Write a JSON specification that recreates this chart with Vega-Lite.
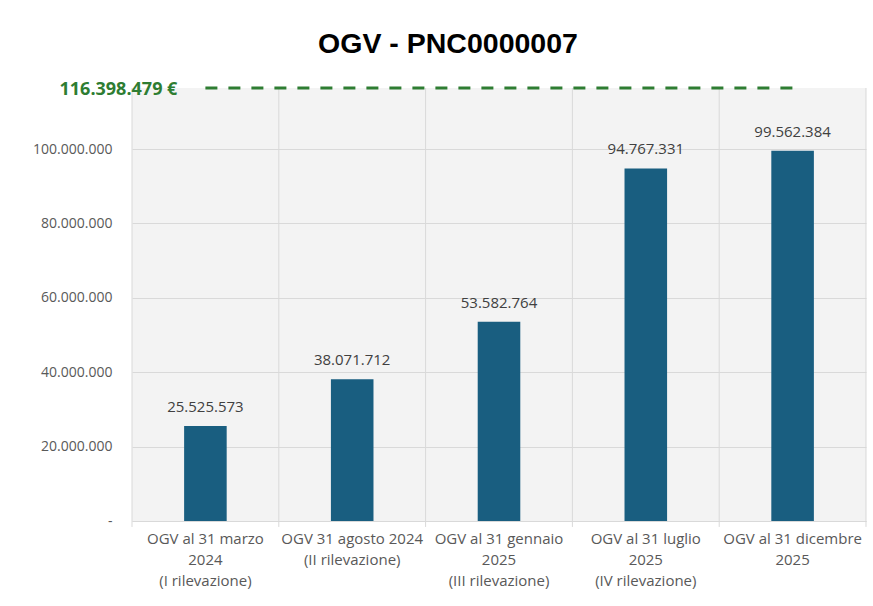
{
  "$schema": "https://vega.github.io/schema/vega-lite/v6.json",
  "width": 734,
  "height": 433,
  "autosize": {"type": "none"},
  "padding": {"left": 132, "top": 88, "right": 7, "bottom": 85},
  "background": "white",
  "title": {
    "text": "OGV - PNC0000007",
    "font": "Liberation Sans",
    "fontSize": 28.5,
    "fontWeight": "bold",
    "color": "#000000",
    "anchor": "middle",
    "dx": -51,
    "offset": 23
  },
  "config": {
    "locale": {
      "number": {"decimal": ",", "thousands": ".", "grouping": [3], "currency": ["", " €"]}
    },
    "view": {"fill": "#f3f3f3", "stroke": null},
    "font": "Open Sans"
  },
  "data": {
    "values": [
      {"periodo": "OGV al 31 marzo|2024|(I rilevazione)", "ogv": 25525573},
      {"periodo": "OGV 31 agosto 2024|(II rilevazione)", "ogv": 38071712},
      {"periodo": "OGV al 31 gennaio|2025|(III rilevazione)", "ogv": 53582764},
      {"periodo": "OGV al 31 luglio|2025|(IV rilevazione)", "ogv": 94767331},
      {"periodo": "OGV al 31 dicembre|2025", "ogv": 99562384}
    ]
  },
  "encoding": {
    "x": {
      "field": "periodo",
      "type": "nominal",
      "sort": null,
      "scale": {"paddingInner": 0.71, "paddingOuter": 0.355},
      "axis": {
        "title": null,
        "labelAngle": 0,
        "labelExpr": "split(datum.label, '|')",
        "labelLineHeight": 21,
        "labelFontSize": 15,
        "labelColor": "#595959",
        "labelPadding": 10,
        "labelBaseline": "top",
        "grid": false,
        "ticks": false,
        "domainColor": "#d9d9d9"
      }
    }
  },
  "layer": [
    {
      "mark": {"type": "rule", "color": "#d9d9d9", "strokeWidth": 1},
      "encoding": {
        "x": {"field": "periodo", "type": "nominal", "bandPosition": -1.224},
        "y": {"datum": 116398479, "type": "quantitative"},
        "y2": {"datum": -1600000}
      }
    },
    {
      "data": {"values": [{"periodo": "OGV al 31 dicembre|2025"}]},
      "mark": {"type": "rule", "color": "#d9d9d9", "strokeWidth": 1},
      "encoding": {
        "x": {"field": "periodo", "type": "nominal", "bandPosition": 2.224},
        "y": {"datum": 116398479, "type": "quantitative"},
        "y2": {"datum": -1600000}
      }
    },
    {
      "mark": {"type": "bar", "color": "#195e80"},
      "encoding": {
        "y": {
          "field": "ogv",
          "type": "quantitative",
          "scale": {"domain": [0, 116398479], "nice": false},
          "axis": {
            "title": null,
            "values": [0, 20000000, 40000000, 60000000, 80000000, 100000000],
            "format": ",d",
            "labelExpr": "datum.value == 0 ? '-' : datum.label",
            "labelFontSize": 14,
            "labelColor": "#595959",
            "labelPadding": 20,
            "ticks": false,
            "domain": false,
            "grid": true,
            "gridColor": "#d9d9d9"
          }
        }
      }
    },
    {
      "mark": {"type": "text", "fontSize": 15, "color": "#404040", "baseline": "alphabetic", "dy": -14},
      "encoding": {
        "y": {"field": "ogv", "type": "quantitative"},
        "text": {"field": "ogv", "type": "quantitative", "format": ",d"}
      }
    },
    {
      "data": {
        "values": [
          {"da": "OGV al 31 marzo|2024|(I rilevazione)", "a": "OGV al 31 dicembre|2025", "obiettivo": 116398479}
        ]
      },
      "mark": {"type": "rule", "color": "#2e7d32", "strokeWidth": 3, "strokeDash": [12, 11]},
      "encoding": {
        "x": {"field": "da", "type": "nominal", "bandPosition": 0.5},
        "x2": {"field": "a", "bandPosition": 0.5},
        "y": {"field": "obiettivo", "type": "quantitative"}
      }
    },
    {
      "data": {
        "values": [
          {"da": "OGV al 31 marzo|2024|(I rilevazione)", "obiettivo": 116398479}
        ]
      },
      "mark": {"type": "text", "color": "#2e7d32", "fontSize": 18, "fontWeight": "bold", "align": "right", "baseline": "middle", "dx": -28, "dy": 2},
      "encoding": {
        "x": {"field": "da", "type": "nominal", "bandPosition": 0.5},
        "y": {"field": "obiettivo", "type": "quantitative"},
        "text": {"field": "obiettivo", "type": "quantitative", "format": "$,d"}
      }
    }
  ]
}
